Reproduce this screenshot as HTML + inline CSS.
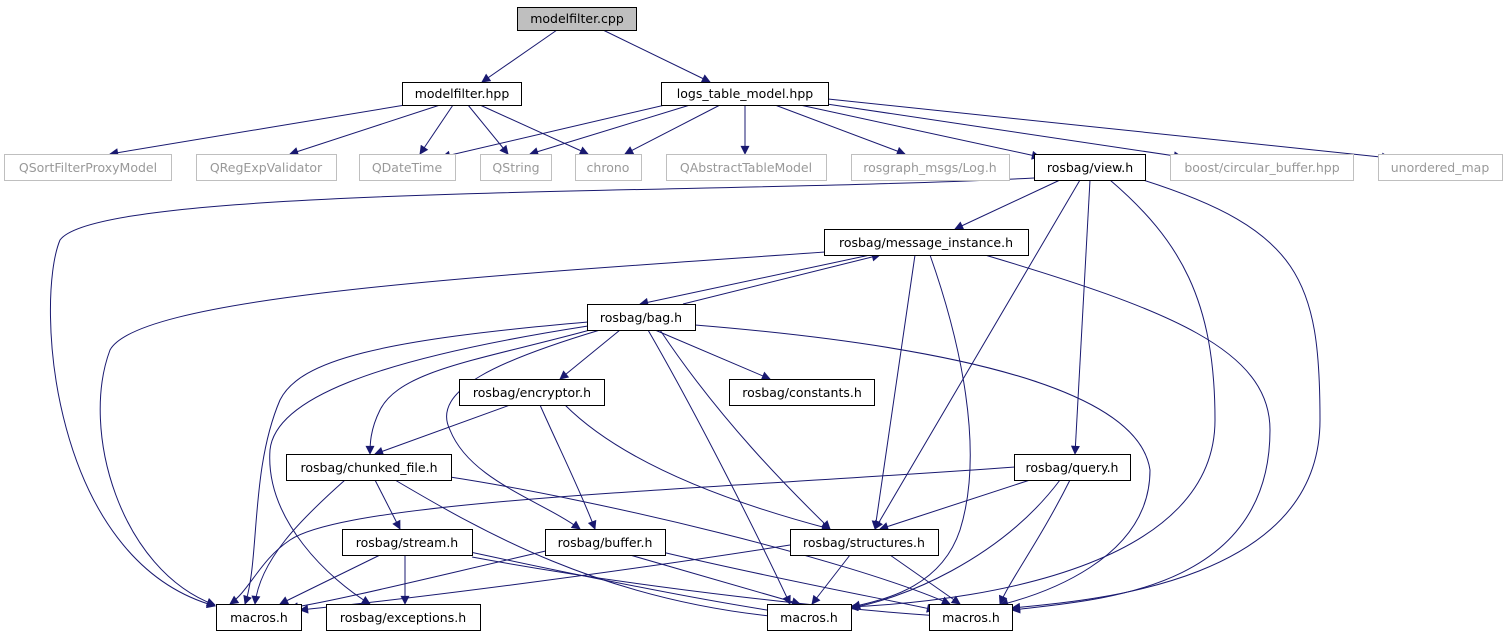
<!DOCTYPE html>
<html><head><meta charset="utf-8"><style>
html,body{margin:0;padding:0;background:#fff;}
svg text{font-family:"DejaVu Sans","Liberation Sans",sans-serif;font-size:12.5px;}
</style></head><body>
<svg width="1507" height="635" viewBox="0 0 1507 635" xmlns="http://www.w3.org/2000/svg">
<defs>
<marker id="a" viewBox="0 0 10 10" refX="9" refY="5" markerWidth="10" markerHeight="9" markerUnits="userSpaceOnUse" orient="auto">
<path d="M0,0 L10,5 L0,10 z" fill="#191970"/>
</marker>
</defs>
<g fill="none" stroke="#191970" stroke-width="1" marker-end="url(#a)">
<path d="M557,30 L482,82"/>
<path d="M603,30 L710,82"/>
<path d="M405,105 L110,154"/>
<path d="M440,105 L290,154"/>
<path d="M453,105 L420,154"/>
<path d="M468,105 L508,154"/>
<path d="M480,105 L588,154"/>
<path d="M665,105 L442,157"/>
<path d="M690,105 L530,154"/>
<path d="M720,105 L625,154"/>
<path d="M745,105 L745,154"/>
<path d="M775,105 L905,154"/>
<path d="M800,105 L1040,157"/>
<path d="M820,103 L1182,157"/>
<path d="M828,99 L1390,158"/>
<path d="M1060,180 L955,229"/>
<path d="M1034,178 C700,195 100,185 60,240 C35,300 50,560 215,606"/>
<path d="M1080,180 L875,529"/>
<path d="M1090,180 L1075,454"/>
<path d="M1110,180 C1180,240 1215,300 1215,420 C1215,560 1000,600 850,607"/>
<path d="M1143,180 C1300,230 1320,280 1320,420 C1320,580 1100,600 1012,608"/>
<path d="M870,255 L640,304"/>
<path d="M683,304 L880,255"/>
<path d="M825,252 C500,275 140,295 110,350 C80,430 120,570 215,605"/>
<path d="M915,255 L875,529"/>
<path d="M930,255 C960,340 985,450 960,530 C940,590 880,600 852,607"/>
<path d="M985,255 C1170,310 1270,350 1270,430 C1270,590 1100,600 1012,610"/>
<path d="M588,322 C380,340 300,360 280,400 C250,470 260,560 245,604"/>
<path d="M588,326 C370,360 275,400 270,450 C265,520 330,580 370,604"/>
<path d="M590,330 C480,360 400,370 380,410 C370,430 370,445 370,454"/>
<path d="M620,330 L560,379"/>
<path d="M655,330 L770,379"/>
<path d="M600,330 C500,360 430,390 450,430 C470,480 540,500 580,529"/>
<path d="M648,330 C700,420 760,540 790,604"/>
<path d="M660,330 C720,420 790,490 830,529"/>
<path d="M695,325 C1000,350 1140,400 1150,470 C1150,560 1040,595 1000,605"/>
<path d="M510,405 L375,454"/>
<path d="M540,405 C560,450 580,490 595,529"/>
<path d="M565,405 C620,460 720,500 830,529"/>
<path d="M345,480 C300,520 260,560 255,604"/>
<path d="M375,480 L400,529"/>
<path d="M395,480 C480,530 600,600 780,617"/>
<path d="M450,477 C600,500 850,560 950,604"/>
<path d="M1015,467 C700,490 350,500 290,540 C260,560 250,590 230,604"/>
<path d="M1030,480 L880,529"/>
<path d="M1060,480 C1000,560 900,600 850,608"/>
<path d="M1070,480 C1040,540 1010,580 1000,604"/>
<path d="M380,555 L280,604"/>
<path d="M405,555 L405,604"/>
<path d="M470,552 C600,580 700,600 780,612"/>
<path d="M472,557 C650,590 850,610 940,616"/>
<path d="M550,550 C420,580 340,600 290,608"/>
<path d="M630,555 L800,604"/>
<path d="M662,552 C780,580 890,600 935,610"/>
<path d="M790,545 C600,575 400,600 300,610"/>
<path d="M850,555 L812,604"/>
<path d="M890,555 L960,604"/>
</g>
<g font-size="12.5" text-anchor="middle">
<rect x="517.5" y="7.5" width="119" height="23" fill="#bfbfbf" stroke="#000"/><text x="577" y="23">modelfilter.cpp</text>
<rect x="402.5" y="82.5" width="119" height="23" fill="#fff" stroke="#000"/><text x="462" y="98">modelfilter.hpp</text>
<rect x="661.5" y="82.5" width="167" height="23" fill="#fff" stroke="#000"/><text x="745" y="98">logs_table_model.hpp</text>
<g fill="#fff" stroke="#bfbfbf">
<rect x="4.5" y="154.5" width="167" height="26"/>
<rect x="196.5" y="154.5" width="140" height="26"/>
<rect x="359.5" y="154.5" width="96" height="26"/>
<rect x="480.5" y="154.5" width="71" height="26"/>
<rect x="575.5" y="154.5" width="66" height="26"/>
<rect x="666.5" y="154.5" width="160" height="26"/>
<rect x="851.5" y="154.5" width="158" height="26"/>
<rect x="1170.5" y="154.5" width="183" height="26"/>
<rect x="1378.5" y="154.5" width="124" height="26"/>
</g>
<g fill="#999">
<text x="88" y="172">QSortFilterProxyModel</text>
<text x="266" y="172">QRegExpValidator</text>
<text x="407" y="172">QDateTime</text>
<text x="516" y="172">QString</text>
<text x="608" y="172">chrono</text>
<text x="746" y="172">QAbstractTableModel</text>
<text x="930" y="172">rosgraph_msgs/Log.h</text>
<text x="1262" y="172">boost/circular_buffer.hpp</text>
<text x="1440" y="172">unordered_map</text>
</g>
<g fill="#fff" stroke="#000">
<rect x="1034.5" y="154.5" width="111" height="26"/>
<rect x="824.5" y="229.5" width="204" height="26"/>
<rect x="587.5" y="304.5" width="108" height="26"/>
<rect x="459.5" y="379.5" width="145" height="26"/>
<rect x="729.5" y="379.5" width="145" height="26"/>
<rect x="286.5" y="454.5" width="165" height="26"/>
<rect x="1014.5" y="454.5" width="116" height="26"/>
<rect x="342.5" y="529.5" width="130" height="26"/>
<rect x="545.5" y="529.5" width="120" height="26"/>
<rect x="790.5" y="529.5" width="148" height="26"/>
<rect x="216.5" y="604.5" width="85" height="26"/>
<rect x="326.5" y="604.5" width="154" height="26"/>
<rect x="767.5" y="604.5" width="84" height="26"/>
<rect x="929.5" y="604.5" width="83" height="26"/>
</g>
<text x="1090" y="172">rosbag/view.h</text>
<text x="926" y="247">rosbag/message_instance.h</text>
<text x="641" y="322">rosbag/bag.h</text>
<text x="532" y="397">rosbag/encryptor.h</text>
<text x="802" y="397">rosbag/constants.h</text>
<text x="369" y="472">rosbag/chunked_file.h</text>
<text x="1072" y="472">rosbag/query.h</text>
<text x="407" y="547">rosbag/stream.h</text>
<text x="605" y="547">rosbag/buffer.h</text>
<text x="864" y="547">rosbag/structures.h</text>
<text x="259" y="622">macros.h</text>
<text x="403" y="622">rosbag/exceptions.h</text>
<text x="809" y="622">macros.h</text>
<text x="971" y="622">macros.h</text>
</g>
</svg>
</body></html>
